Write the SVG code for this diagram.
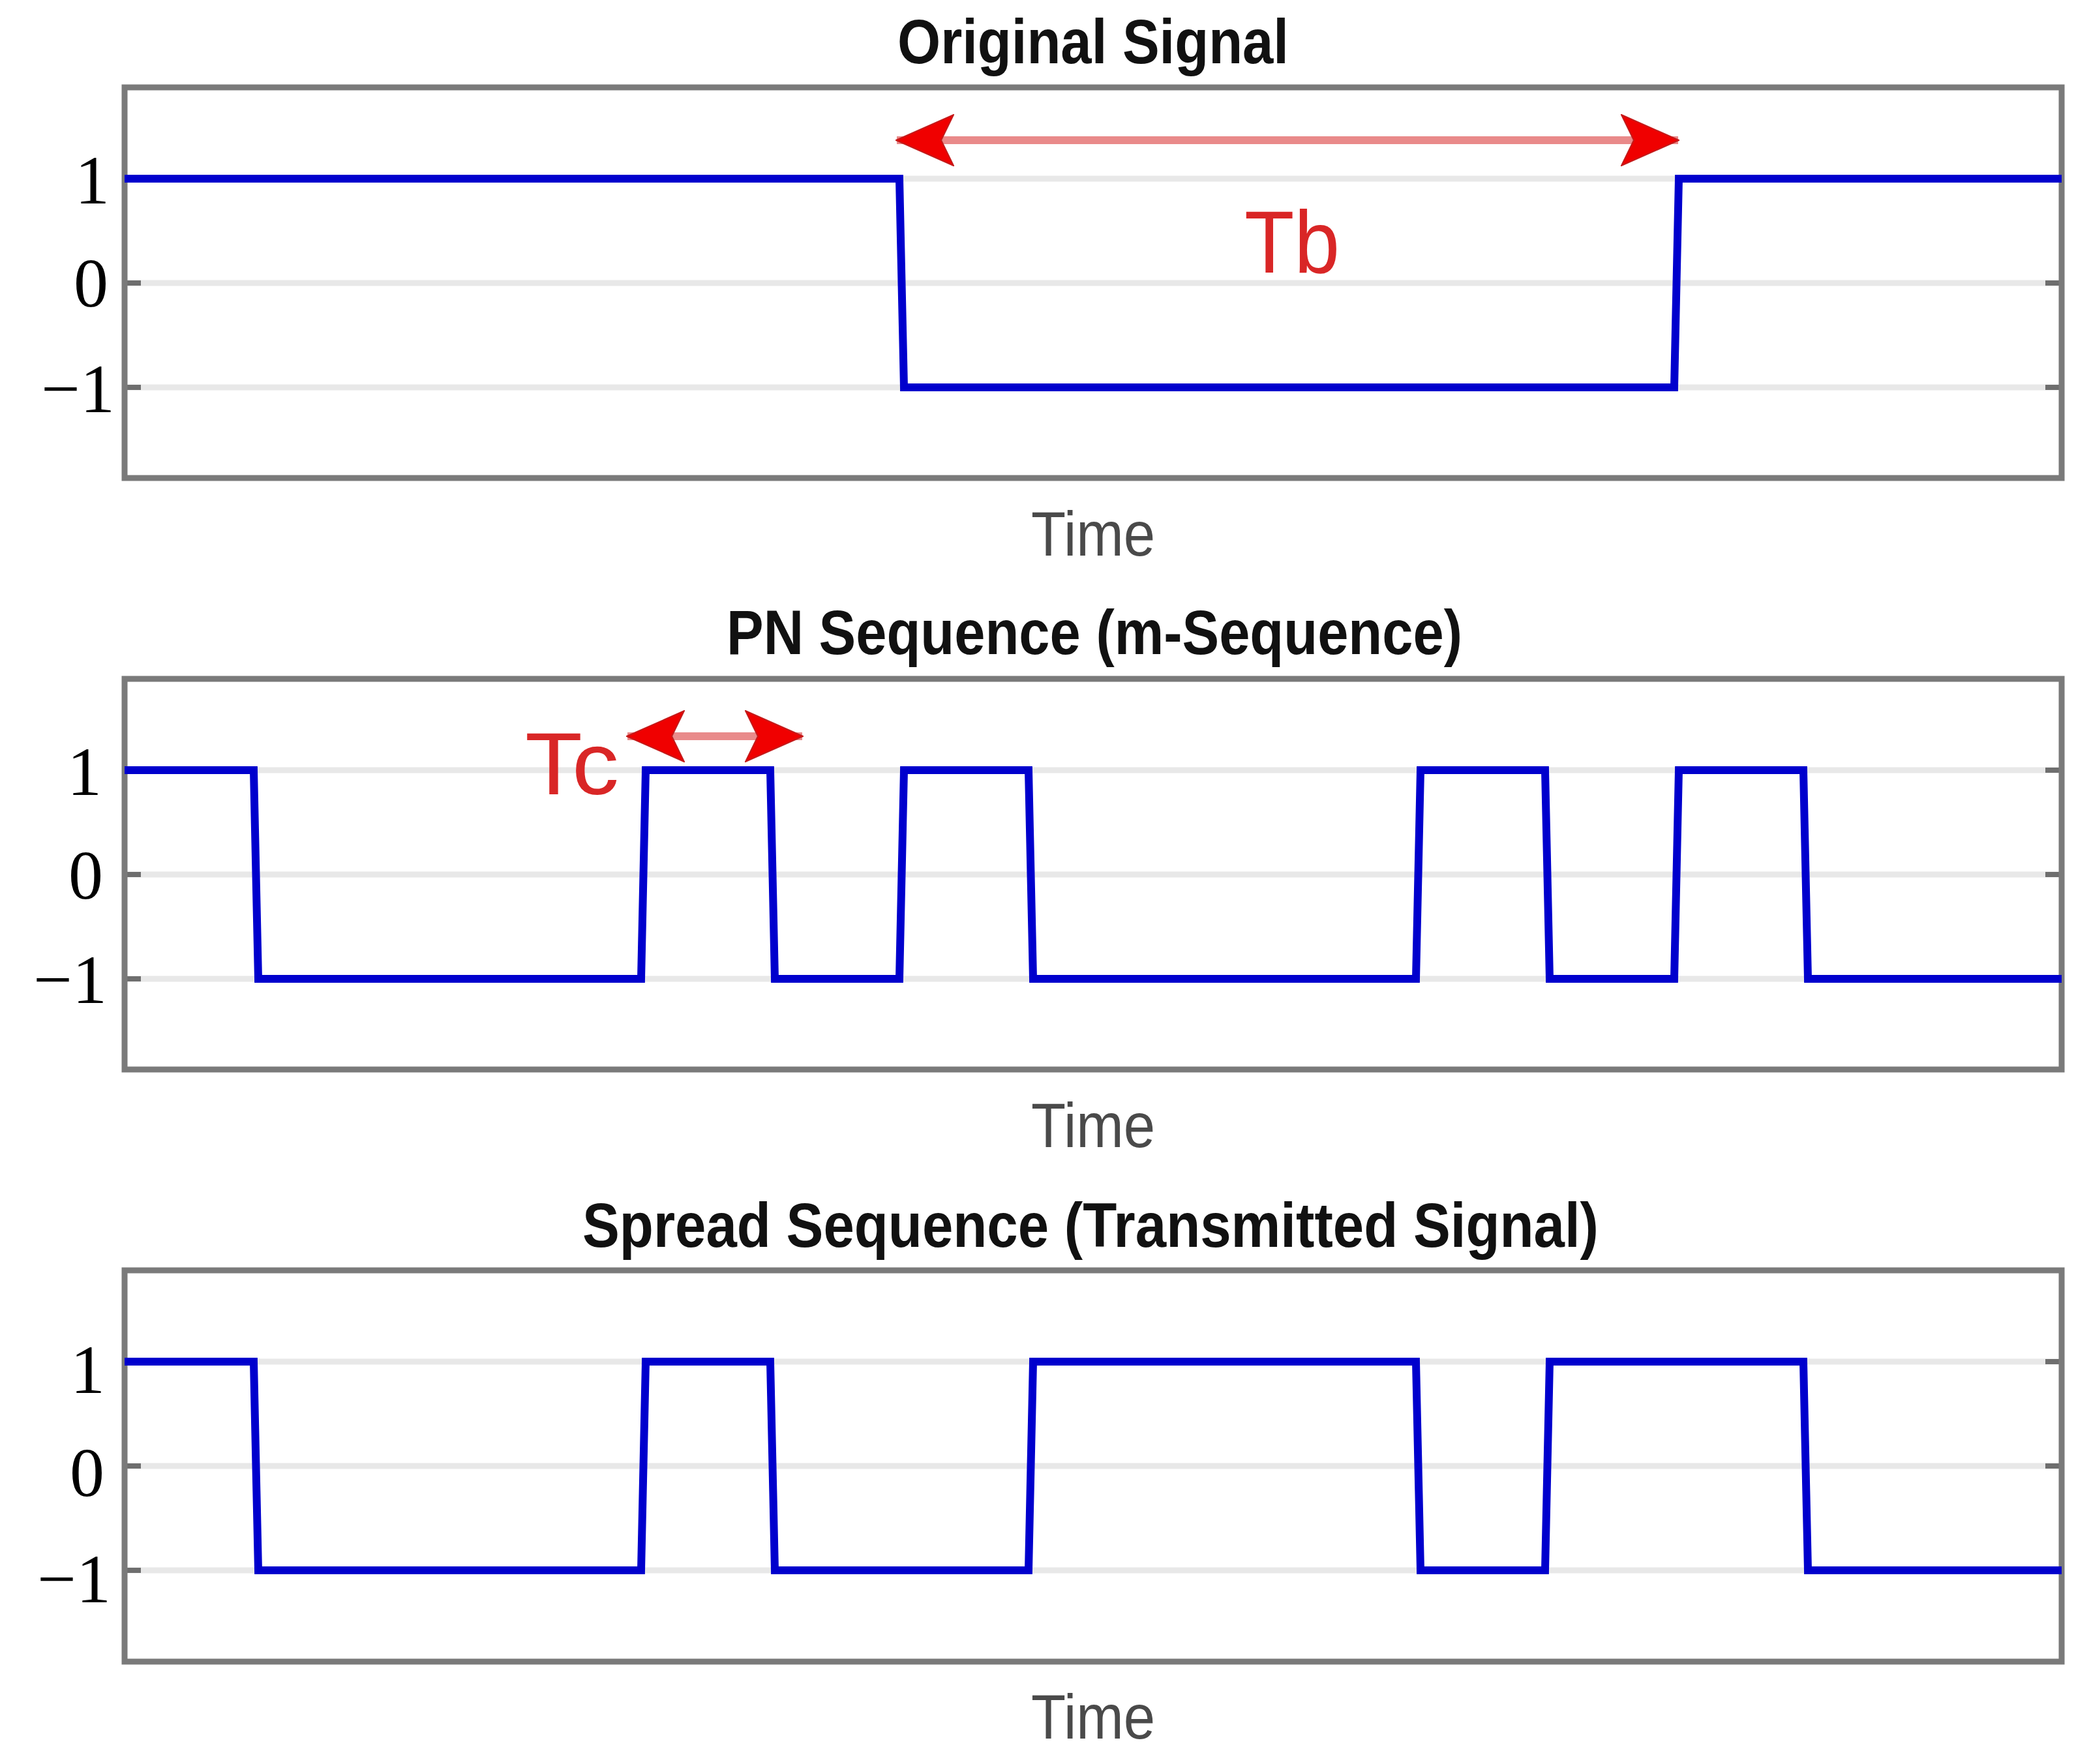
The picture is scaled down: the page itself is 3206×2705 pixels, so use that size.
<svg xmlns="http://www.w3.org/2000/svg" width="3206" height="2705" viewBox="0 0 3206 2705">
<style>
.frame{fill:none;stroke:#7a7a7a;stroke-width:9}
.grid{stroke:#e8e8e8;stroke-width:9}
.tick{stroke:#6e6e6e;stroke-width:8}
.sig{fill:none;stroke:#0000cd;stroke-width:12;stroke-linejoin:miter}
.title{font-family:"Liberation Sans",Arial,sans-serif;font-weight:bold;font-size:97px;fill:#111;text-anchor:middle}
.xlab{font-family:"Liberation Sans",Arial,sans-serif;font-size:96px;fill:#4a4a4a;text-anchor:middle}
.ylab{font-family:"Liberation Serif","Times New Roman",serif;font-size:106px;fill:#000;text-anchor:end}
.red{font-family:"Liberation Sans",Arial,sans-serif;font-size:136px;fill:#d92626}
.shaft{stroke:#e98a8a;stroke-width:12;fill:none}
</style>
<defs>
<marker id="ah" viewBox="0 0 90 80" refX="88" refY="40" markerWidth="90" markerHeight="80" markerUnits="userSpaceOnUse" orient="auto-start-reverse">
<path d="M1,1 L89,40 L1,79 L20,40 Z" fill="#f00000" stroke="#c41a1a" stroke-width="2" stroke-linejoin="miter"/>
</marker>
<g id="gridset">
<line class="grid" x1="191" y1="274" x2="3161" y2="274"/>
<line class="grid" x1="191" y1="434" x2="3161" y2="434"/>
<line class="grid" x1="191" y1="594" x2="3161" y2="594"/>
<line class="tick" x1="191" y1="274" x2="216" y2="274"/>
<line class="tick" x1="191" y1="434" x2="216" y2="434"/>
<line class="tick" x1="191" y1="594" x2="216" y2="594"/>
<line class="tick" x1="3136" y1="274" x2="3161" y2="274"/>
<line class="tick" x1="3136" y1="434" x2="3161" y2="434"/>
<line class="tick" x1="3136" y1="594" x2="3161" y2="594"/>
</g>
</defs>
<rect width="3206" height="2705" fill="#fff"/>

<g id="panel-original">
<text class="title" x="1676" y="97" textLength="600" lengthAdjust="spacingAndGlyphs">Original Signal</text>
<use href="#gridset"/>
<rect class="frame" x="191" y="134" width="2970" height="599"/>
<text class="ylab" x="168" y="312">1</text>
<text class="ylab" x="166" y="470">0</text>
<text class="ylab" x="176" y="632">−1</text>
<path class="sig" d="M191,274 H1379 L1386,594 H2567 L2574,274 H3161"/>
<text class="xlab" x="1676" y="852" textLength="190" lengthAdjust="spacingAndGlyphs">Time</text>
</g>

<g id="panel-pn">
<text class="title" x="1678" y="1003" textLength="1128" lengthAdjust="spacingAndGlyphs">PN Sequence (m-Sequence)</text>
<use href="#gridset" transform="translate(0,907)"/>
<rect class="frame" x="191" y="1041" width="2970" height="599"/>
<text class="ylab" x="156" y="1219">1</text>
<text class="ylab" x="158" y="1378">0</text>
<text class="ylab" x="164" y="1538">−1</text>
<path class="sig" d="M191,1181 H389 L396,1501 H983 L990,1181 H1181 L1188,1501 H1379 L1386,1181 H1577 L1584,1501 H2171 L2178,1181 H2369 L2376,1501 H2567 L2574,1181 H2765 L2772,1501 H3161"/>
<text class="xlab" x="1676" y="1759" textLength="190" lengthAdjust="spacingAndGlyphs">Time</text>
</g>

<g id="panel-spread">
<text class="title" x="1672" y="1912" textLength="1558" lengthAdjust="spacingAndGlyphs">Spread Sequence (Transmitted Signal)</text>
<use href="#gridset" transform="translate(0,1814)"/>
<rect class="frame" x="191" y="1948" width="2970" height="600"/>
<text class="ylab" x="161" y="2136">1</text>
<text class="ylab" x="160" y="2294">0</text>
<text class="ylab" x="170" y="2457">−1</text>
<path class="sig" d="M191,2088 H389 L396,2408 H983 L990,2088 H1181 L1188,2408 H1577 L1584,2088 H2171 L2178,2408 H2369 L2376,2088 H2765 L2772,2408 H3161"/>
<text class="xlab" x="1676" y="2666" textLength="190" lengthAdjust="spacingAndGlyphs">Time</text>
</g>

<g id="annotations">
<line class="shaft" x1="1375" y1="215" x2="2573" y2="215" marker-start="url(#ah)" marker-end="url(#ah)"/>
<text class="red" x="1908" y="418" textLength="146" lengthAdjust="spacingAndGlyphs">Tb</text>
<line class="shaft" x1="962" y1="1129" x2="1230" y2="1129" marker-start="url(#ah)" marker-end="url(#ah)"/>
<text class="red" x="805" y="1218" textLength="144" lengthAdjust="spacingAndGlyphs">Tc</text>
</g>
</svg>
